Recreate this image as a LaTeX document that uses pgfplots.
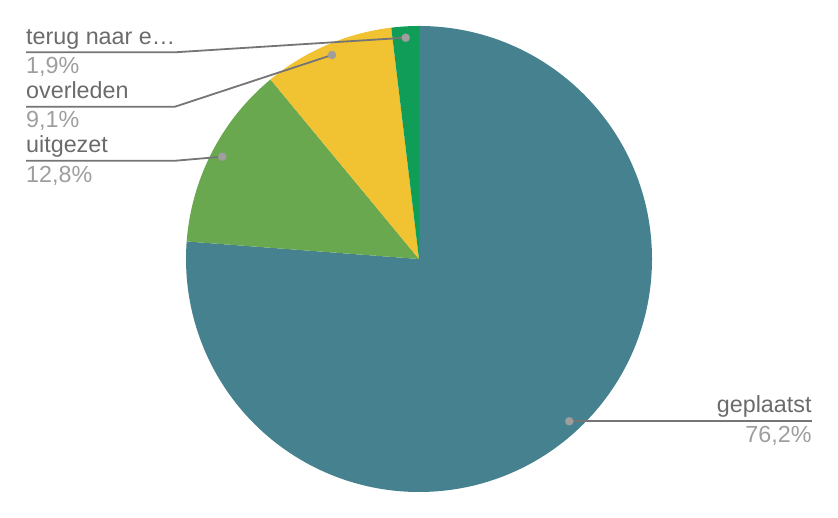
\documentclass[border=0pt]{standalone}
\usepackage{fontspec}
\setmainfont{Liberation Sans}
\usepackage{pgfplots}
\usepackage{pgfplotstable}
\pgfplotsset{compat=1.18}
\definecolor{cGeplaatst}{HTML}{45818E}
\definecolor{cUitgezet}{HTML}{6AA84F}
\definecolor{cOverleden}{HTML}{F1C232}
\definecolor{cTerug}{HTML}{0F9D58}
\definecolor{lineGray}{HTML}{757575}
\definecolor{labGray}{HTML}{6B6B6B}
\definecolor{pctGray}{HTML}{9E9E9E}
\definecolor{dotGray}{HTML}{9E9E9E}

\pgfplotstableread{
label value
geplaatst 76.2
uitgezet 12.8
overleden 9.1
terug 1.9
}\piedata

% cumulative angles (start at 12 o'clock, clockwise)
\pgfplotstablegetelem{0}{value}\of\piedata \pgfmathsetmacro{\aA}{90-3.6*\pgfplotsretval}
\pgfplotstablegetelem{1}{value}\of\piedata \pgfmathsetmacro{\aB}{\aA-3.6*\pgfplotsretval}
\pgfplotstablegetelem{2}{value}\of\piedata \pgfmathsetmacro{\aC}{\aB-3.6*\pgfplotsretval}
\pgfplotstablegetelem{3}{value}\of\piedata \pgfmathsetmacro{\aD}{\aC-3.6*\pgfplotsretval}

\tikzset{lab/.style={font=\fontsize{23.3}{27}\selectfont, inner sep=0pt}}

\begin{document}
\begin{tikzpicture}
\begin{axis}[
  width=838pt, height=518pt, scale only axis,
  xmin=0, xmax=838, ymin=0, ymax=518,
  hide axis, clip=false,
]
% slices
\fill[cGeplaatst] (axis cs:419,259) -- ++(90:233pt) arc[start angle=90, end angle=\aA, radius=233pt] -- cycle;
\fill[cUitgezet] (axis cs:419,259) -- ++(\aA:233pt) arc[start angle=\aA, end angle=\aB, radius=233pt] -- cycle;
\fill[cOverleden] (axis cs:419,259) -- ++(\aB:233pt) arc[start angle=\aB, end angle=\aC, radius=233pt] -- cycle;
\fill[cTerug] (axis cs:419,259) -- ++(\aC:233pt) arc[start angle=\aC, end angle=\aD, radius=233pt] -- cycle;

% leader lines
\addplot[lineGray, line width=1.8pt] coordinates {(569.3,96.7) (811.7,96.7)};
\addplot[lineGray, line width=1.8pt] coordinates {(222.3,361.3) (175.7,357.3) (26,357.3)};
\addplot[lineGray, line width=1.8pt] coordinates {(332,463) (175,411.3) (26,411.3)};
\addplot[lineGray, line width=1.8pt] coordinates {(405.7,480.3) (175,465.7) (26,465.7)};
% dots
\addplot[only marks, mark=*, mark size=4pt, dotGray, mark options={draw=dotGray, fill=dotGray}]
  coordinates {(569.3,96.7) (222.3,361.3) (332,463) (405.7,480.3)};

% labels
\node[lab, anchor=base east, text=labGray] at (axis cs:811.7,105) {geplaatst};
\node[lab, anchor=base east, text=pctGray] at (axis cs:811.7,75) {76,2\%};
\node[lab, anchor=base west, text=labGray] at (axis cs:26,365.7) {uitgezet};
\node[lab, anchor=base west, text=pctGray] at (axis cs:26,335) {12,8\%};
\node[lab, anchor=base west, text=labGray] at (axis cs:26,419) {overleden};
\node[lab, anchor=base west, text=pctGray] at (axis cs:26,390) {9,1\%};
\node[lab, anchor=base west, text=labGray] at (axis cs:26,473) {terug naar e…};
\node[lab, anchor=base west, text=pctGray] at (axis cs:26,444) {1,9\%};
\end{axis}
\path (current axis.south west) rectangle (current axis.north east);
\end{tikzpicture}
\end{document}
